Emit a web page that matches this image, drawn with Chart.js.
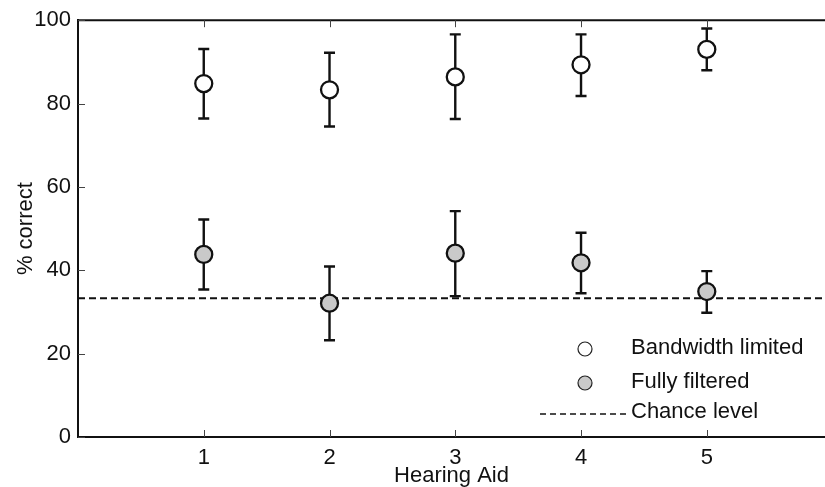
<!DOCTYPE html>
<html>
<head>
<meta charset="utf-8">
<script src="https://cdn.jsdelivr.net/npm/chart.js@4"></script>
<style>
  html, body { margin: 0; padding: 0; background: #fff; overflow: hidden; }
  #wrap { width: 825px; height: 487px; }
</style>
</head>
<body>
<div id="wrap"><canvas id="chart" width="825" height="487"></canvas></div>
<script>
const hearingAids = [1, 2, 3, 4, 5];
const bandwidthMean = [84.8, 83.3, 86.4, 89.3, 93.0];
const bandwidthUpper = [93.1, 92.2, 96.6, 96.6, 98.0];
const bandwidthLower = [76.4, 74.5, 76.3, 81.8, 88.0];
const filteredMean = [43.8, 32.1, 44.1, 41.8, 34.9];
const filteredUpper = [52.2, 40.9, 54.2, 49.0, 39.8];
const filteredLower = [35.4, 23.2, 33.8, 34.5, 29.8];
const chanceLevel = 33.3;
const yTicks = [0, 20, 40, 60, 80, 100];
const legendLabels = ['Bandwidth limited', 'Fully filtered', 'Chance level'];

const xMax = 5.94;
const FONT = '"Liberation Sans", Arial, Helvetica, sans-serif';
const INK = '#111';

const toPoints = (ys) => hearingAids.map((x, i) => ({ x: x, y: ys[i] }));

// error bars under each marker
const errorBars = {
    id: 'errorBars',
    beforeDatasetDraw(chart, args) {
        const ds = chart.data.datasets[args.index];
        if (!ds.errUpper) return;
        const ctx = chart.ctx;
        const xs = chart.scales.x, ys = chart.scales.y;
        ctx.save();
        ctx.strokeStyle = INK;
        ctx.lineWidth = 2.4;
        ds.data.forEach((p, i) => {
            const px = xs.getPixelForValue(p.x);
            const top = ys.getPixelForValue(ds.errUpper[i]);
            const bot = ys.getPixelForValue(ds.errLower[i]);
            ctx.beginPath();
            ctx.moveTo(px, top); ctx.lineTo(px, bot);
            ctx.moveTo(px - 5.5, top); ctx.lineTo(px + 5.5, top);
            ctx.moveTo(px - 5.5, bot); ctx.lineTo(px + 5.5, bot);
            ctx.stroke();
        });
        ctx.restore();
    }
};

// top frame line, inward ticks and the legend box inside the plot
const frame = {
    id: 'frame',
    afterDraw(chart) {
        const ctx = chart.ctx;
        const a = chart.chartArea;
        const xs = chart.scales.x, ys = chart.scales.y;
        ctx.save();
        ctx.strokeStyle = INK;
        ctx.lineWidth = 2;
        ctx.beginPath();
        ctx.moveTo(a.left - 1, a.top); ctx.lineTo(a.right, a.top);
        ctx.stroke();

        ctx.strokeStyle = '#444';
        ctx.lineWidth = 1;
        ctx.beginPath();
        hearingAids.forEach(v => {
            const px = Math.round(xs.getPixelForValue(v)) + 0.5;
            ctx.moveTo(px, a.top); ctx.lineTo(px, a.top + 7);
            ctx.moveTo(px, a.bottom); ctx.lineTo(px, a.bottom - 7);
        });
        yTicks.forEach(v => {
            const py = Math.round(ys.getPixelForValue(v)) + 0.5;
            ctx.moveTo(a.left, py); ctx.lineTo(a.left + 7, py);
        });
        ctx.stroke();

        // legend
        const sets = chart.data.datasets;
        const mx = a.right - 240, tx = a.right - 194;
        const rows = [a.bottom - 89, a.bottom - 55, a.bottom - 25];
        ctx.font = '22px ' + FONT;
        ctx.fillStyle = INK;
        ctx.textBaseline = 'middle';
        ctx.textAlign = 'left';
        [sets[0], sets[1]].forEach((ds, i) => {
            ctx.beginPath();
            ctx.arc(mx, rows[i] + 1, 7, 0, Math.PI * 2);
            ctx.fillStyle = ds.backgroundColor;
            ctx.fill();
            ctx.strokeStyle = '#222';
            ctx.lineWidth = 1.2;
            ctx.stroke();
            ctx.fillStyle = INK;
            ctx.fillText(legendLabels[i], tx, rows[i]);
        });
        ctx.beginPath();
        ctx.setLineDash([6, 4]);
        ctx.lineWidth = 1.6;
        ctx.strokeStyle = INK;
        ctx.moveTo(a.right - 285, rows[2] + 2);
        ctx.lineTo(a.right - 199, rows[2] + 2);
        ctx.stroke();
        ctx.setLineDash([]);
        ctx.fillText(legendLabels[2], tx, rows[2]);
        ctx.restore();
    }
};

new Chart(document.getElementById('chart'), {
    type: 'scatter',
    data: {
        datasets: [
            {
                label: legendLabels[0],
                data: toPoints(bandwidthMean),
                errUpper: bandwidthUpper,
                errLower: bandwidthLower,
                backgroundColor: '#ffffff',
                borderColor: INK,
                borderWidth: 2.3,
                pointRadius: 8.5,
                order: 1
            },
            {
                label: legendLabels[1],
                data: toPoints(filteredMean),
                errUpper: filteredUpper,
                errLower: filteredLower,
                backgroundColor: '#c9c9c9',
                borderColor: INK,
                borderWidth: 2.3,
                pointRadius: 8.5,
                order: 2
            },
            {
                type: 'line',
                label: legendLabels[2],
                data: [{ x: 0, y: chanceLevel }, { x: xMax, y: chanceLevel }],
                borderColor: INK,
                borderWidth: 2,
                borderDash: [7, 4],
                pointRadius: 0,
                fill: false,
                order: 3
            }
        ]
    },
    options: {
        responsive: false,
        animation: false,
        devicePixelRatio: 1,
        layout: { autoPadding: false, padding: { top: 20, right: 0, left: 0, bottom: 0 } },
        plugins: {
            legend: { display: false },
            tooltip: { enabled: false }
        },
        scales: {
            x: {
                type: 'linear',
                min: 0,
                max: xMax,
                afterBuildTicks: s => { s.ticks = hearingAids.map(v => ({ value: v })); },
                afterFit: s => { s.height = 50; s.paddingRight = 0; s.paddingLeft = 0; },
                grid: { display: false, drawTicks: false },
                border: { display: true, color: INK, width: 2 },
                ticks: { color: INK, padding: 8, font: { family: FONT, size: 22 } },
                title: {
                    display: true, text: 'Hearing Aid', color: INK,
                    padding: { top: 0, bottom: -2 },
                    font: { family: FONT, size: 22 }
                }
            },
            y: {
                min: 0,
                max: 100,
                afterBuildTicks: s => { s.ticks = yTicks.map(v => ({ value: v })); },
                afterFit: s => { s.width = 78; },
                grid: { display: false, drawTicks: false },
                border: { display: true, color: INK, width: 2 },
                ticks: { color: INK, padding: 7, font: { family: FONT, size: 22 } },
                title: {
                    display: true, text: '% correct', color: INK,
                    padding: { top: 13, bottom: 0 },
                    font: { family: FONT, size: 22 }
                }
            }
        }
    },
    plugins: [errorBars, frame]
});
</script>
</body>
</html>
